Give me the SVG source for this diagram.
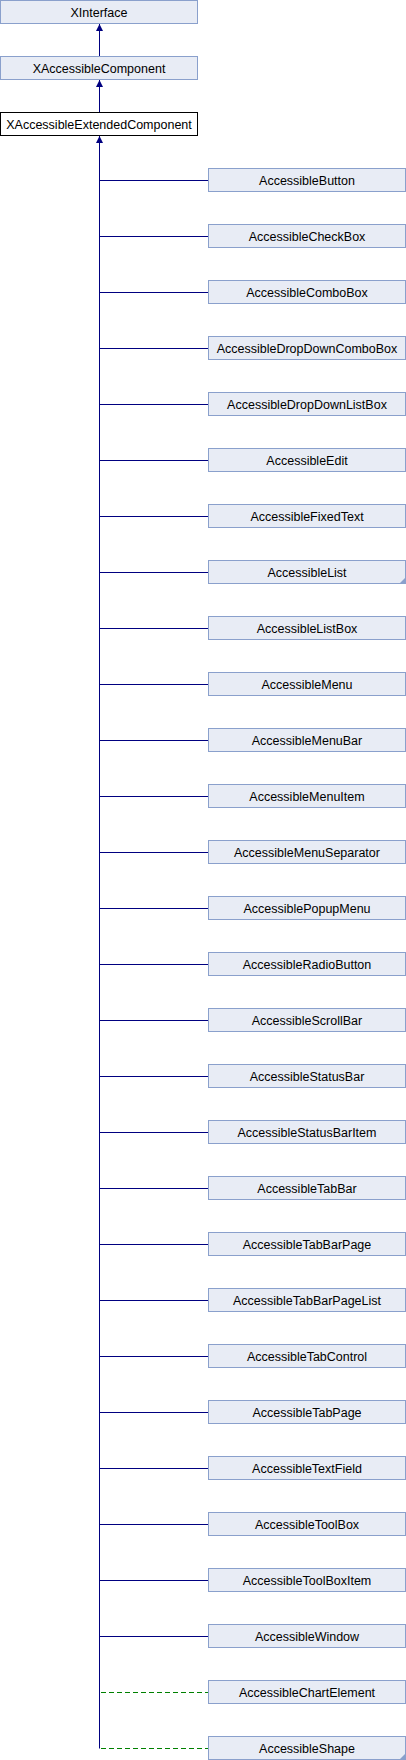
<svg xmlns="http://www.w3.org/2000/svg" width="406" height="1760" viewBox="0 0 406 1760">
<style>
.b{fill:#e8ecf5;stroke:#8aa0cc;stroke-width:1}
.w{fill:#ffffff;stroke:#000000;stroke-width:1}
.t{font-family:"Liberation Sans",Arial,sans-serif;font-size:12.5px;fill:#000000;text-anchor:middle}
.l{stroke:#000080;stroke-width:1;fill:none}
.d{stroke:#008000;stroke-width:1;fill:none;stroke-dasharray:5,3}
.c{fill:#8aa0cc}
</style>
<defs>
<marker id="ar" markerWidth="7" markerHeight="8" refX="3.5" refY="0" orient="0" markerUnits="userSpaceOnUse" viewBox="0 0 7 8" overflow="visible">
<path d="M0,7 L3.5,0 L7,7 Z" fill="#000080"/>
</marker>
</defs>
<g id="connectors">
<line class="l" x1="99.5" y1="56" x2="99.5" y2="24" marker-end="url(#ar)"/>
<line class="l" x1="99.5" y1="112" x2="99.5" y2="80" marker-end="url(#ar)"/>
<line class="l" x1="99.5" y1="1748.5" x2="99.5" y2="136" marker-end="url(#ar)"/>
<path class="l" d="M100,180.5H208M100,236.5H208M100,292.5H208M100,348.5H208M100,404.5H208M100,460.5H208M100,516.5H208M100,572.5H208M100,628.5H208M100,684.5H208M100,740.5H208M100,796.5H208M100,852.5H208M100,908.5H208M100,964.5H208M100,1020.5H208M100,1076.5H208M100,1132.5H208M100,1188.5H208M100,1244.5H208M100,1300.5H208M100,1356.5H208M100,1412.5H208M100,1468.5H208M100,1524.5H208M100,1580.5H208M100,1636.5H208"/>
<path class="d" d="M101,1692.5H208M101,1748.5H208"/>
</g>
<g id="XInterface"><rect class="b" x="0.5" y="0.5" width="197" height="23"/><text class="t" x="99" y="16.5">XInterface</text></g>
<g id="XAccessibleComponent"><rect class="b" x="0.5" y="56.5" width="197" height="23"/><text class="t" x="99" y="72.5">XAccessibleComponent</text></g>
<g id="XAccessibleExtendedComponent"><rect class="w" x="0.5" y="112.5" width="197" height="23"/><text class="t" x="99" y="128.5">XAccessibleExtendedComponent</text></g>
<g id="AccessibleButton"><rect class="b" x="208.5" y="168.5" width="197" height="23"/><text class="t" x="307" y="184.5">AccessibleButton</text></g>
<g id="AccessibleCheckBox"><rect class="b" x="208.5" y="224.5" width="197" height="23"/><text class="t" x="307" y="240.5">AccessibleCheckBox</text></g>
<g id="AccessibleComboBox"><rect class="b" x="208.5" y="280.5" width="197" height="23"/><text class="t" x="307" y="296.5">AccessibleComboBox</text></g>
<g id="AccessibleDropDownComboBox"><rect class="b" x="208.5" y="336.5" width="197" height="23"/><text class="t" x="307" y="352.5">AccessibleDropDownComboBox</text></g>
<g id="AccessibleDropDownListBox"><rect class="b" x="208.5" y="392.5" width="197" height="23"/><text class="t" x="307" y="408.5">AccessibleDropDownListBox</text></g>
<g id="AccessibleEdit"><rect class="b" x="208.5" y="448.5" width="197" height="23"/><text class="t" x="307" y="464.5">AccessibleEdit</text></g>
<g id="AccessibleFixedText"><rect class="b" x="208.5" y="504.5" width="197" height="23"/><text class="t" x="307" y="520.5">AccessibleFixedText</text></g>
<g id="AccessibleList"><rect class="b" x="208.5" y="560.5" width="197" height="23"/><path class="c" d="M399,584L406,577V584Z"/><text class="t" x="307" y="576.5">AccessibleList</text></g>
<g id="AccessibleListBox"><rect class="b" x="208.5" y="616.5" width="197" height="23"/><text class="t" x="307" y="632.5">AccessibleListBox</text></g>
<g id="AccessibleMenu"><rect class="b" x="208.5" y="672.5" width="197" height="23"/><text class="t" x="307" y="688.5">AccessibleMenu</text></g>
<g id="AccessibleMenuBar"><rect class="b" x="208.5" y="728.5" width="197" height="23"/><text class="t" x="307" y="744.5">AccessibleMenuBar</text></g>
<g id="AccessibleMenuItem"><rect class="b" x="208.5" y="784.5" width="197" height="23"/><text class="t" x="307" y="800.5">AccessibleMenuItem</text></g>
<g id="AccessibleMenuSeparator"><rect class="b" x="208.5" y="840.5" width="197" height="23"/><text class="t" x="307" y="856.5">AccessibleMenuSeparator</text></g>
<g id="AccessiblePopupMenu"><rect class="b" x="208.5" y="896.5" width="197" height="23"/><text class="t" x="307" y="912.5">AccessiblePopupMenu</text></g>
<g id="AccessibleRadioButton"><rect class="b" x="208.5" y="952.5" width="197" height="23"/><text class="t" x="307" y="968.5">AccessibleRadioButton</text></g>
<g id="AccessibleScrollBar"><rect class="b" x="208.5" y="1008.5" width="197" height="23"/><text class="t" x="307" y="1024.5">AccessibleScrollBar</text></g>
<g id="AccessibleStatusBar"><rect class="b" x="208.5" y="1064.5" width="197" height="23"/><text class="t" x="307" y="1080.5">AccessibleStatusBar</text></g>
<g id="AccessibleStatusBarItem"><rect class="b" x="208.5" y="1120.5" width="197" height="23"/><text class="t" x="307" y="1136.5">AccessibleStatusBarItem</text></g>
<g id="AccessibleTabBar"><rect class="b" x="208.5" y="1176.5" width="197" height="23"/><text class="t" x="307" y="1192.5">AccessibleTabBar</text></g>
<g id="AccessibleTabBarPage"><rect class="b" x="208.5" y="1232.5" width="197" height="23"/><text class="t" x="307" y="1248.5">AccessibleTabBarPage</text></g>
<g id="AccessibleTabBarPageList"><rect class="b" x="208.5" y="1288.5" width="197" height="23"/><text class="t" x="307" y="1304.5">AccessibleTabBarPageList</text></g>
<g id="AccessibleTabControl"><rect class="b" x="208.5" y="1344.5" width="197" height="23"/><text class="t" x="307" y="1360.5">AccessibleTabControl</text></g>
<g id="AccessibleTabPage"><rect class="b" x="208.5" y="1400.5" width="197" height="23"/><text class="t" x="307" y="1416.5">AccessibleTabPage</text></g>
<g id="AccessibleTextField"><rect class="b" x="208.5" y="1456.5" width="197" height="23"/><text class="t" x="307" y="1472.5">AccessibleTextField</text></g>
<g id="AccessibleToolBox"><rect class="b" x="208.5" y="1512.5" width="197" height="23"/><text class="t" x="307" y="1528.5">AccessibleToolBox</text></g>
<g id="AccessibleToolBoxItem"><rect class="b" x="208.5" y="1568.5" width="197" height="23"/><text class="t" x="307" y="1584.5">AccessibleToolBoxItem</text></g>
<g id="AccessibleWindow"><rect class="b" x="208.5" y="1624.5" width="197" height="23"/><text class="t" x="307" y="1640.5">AccessibleWindow</text></g>
<g id="AccessibleChartElement"><rect class="b" x="208.5" y="1680.5" width="197" height="23"/><text class="t" x="307" y="1696.5">AccessibleChartElement</text></g>
<g id="AccessibleShape"><rect class="b" x="208.5" y="1736.5" width="197" height="23"/><path class="c" d="M399,1760L406,1753V1760Z"/><text class="t" x="307" y="1752.5">AccessibleShape</text></g>
</svg>
